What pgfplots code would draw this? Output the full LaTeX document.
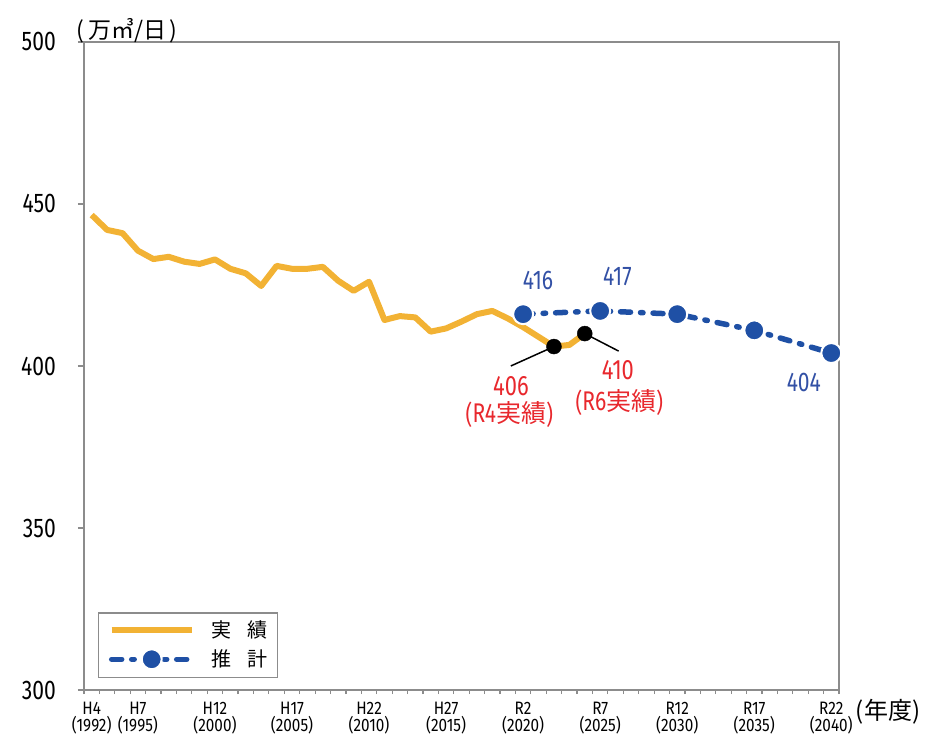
\documentclass[border=0pt]{standalone}
\usepackage{fontspec}
\usepackage{pgfplots}
\pgfplotsset{compat=1.18}
\setmainfont{Noto Sans CJK JP}
\newfontfamily\numfont{Fira Sans}[FakeStretch=0.78]
\newfontfamily\xnumfont{Fira Sans}[FakeStretch=0.85]
\definecolor{act}{RGB}{242,178,52}
\definecolor{est}{RGB}{31,80,165}
\definecolor{estlab}{RGB}{50,80,165}
\definecolor{redlab}{RGB}{232,40,45}
\definecolor{framec}{RGB}{140,140,140}
\pgfplotsset{
  actleg/.style={legend image code/.code={\draw[##1] (0pt,0pt) -- (80pt,0pt);}},
  estleg/.style={legend image code/.code={\draw[mark repeat=2,mark phase=2,##1] plot coordinates {(0pt,0pt) (40pt,0pt) (80pt,0pt)};}},
}
\begin{document}
\begin{tikzpicture}[x=1pt,y=1pt]
\useasboundingbox (0,0) rectangle (926,736);
\begin{axis}[
  at={(84pt,46pt)}, anchor=south west,
  scale only axis, width=755pt, height=648pt,
  xmin=1991.5, xmax=2040.5, ymin=300, ymax=500,
  axis line style={framec, line width=1.5pt},
  tick style={framec, line width=1.2pt},
  tick align=outside,
  xtick pos=bottom, ytick pos=left,
  xtick={1992,1995,2000,2005,2010,2015,2020,2025,2030,2035,2040},
  xticklabels={{H4\\(1992)},{H7\\(1995)},{H12\\(2000)},{H17\\(2005)},{H22\\(2010)},{H27\\(2015)},{R2\\(2020)},{R7\\(2025)},{R12\\(2030)},{R17\\(2035)},{R22\\(2040)}},
  major x tick style={draw=none},
  minor xtick={1991.5,1992.5,...,2040.5},
  minor tick length=4pt,
  major tick length=6pt,
  ytick={300,350,400,450,500},
  yticklabels={300,350,400,450,500},
  xticklabel style={font=\xnumfont\fontsize{18}{17}\selectfont, align=center, inner sep=0pt, yshift=-6pt},
  yticklabel style={font=\numfont\fontsize{27}{27}\selectfont, inner sep=0pt, xshift=-22pt},
  clip=false,
  legend cell align=left,
  legend style={at={(0.0185,0.0185)}, anchor=south west, draw=framec, line width=1.5pt, fill=white,
    inner xsep=10pt, inner ysep=8pt, row sep=10pt, font=\fontsize{20}{20}\selectfont,
    nodes={inner sep=0pt}, /tikz/every odd column/.append style={column sep=17pt}},
]
\addplot[act, line width=6pt, line join=round, actleg]
coordinates {
(1992,446.6) (1993,442.0) (1994,441.0) (1995,435.6) (1996,433.0) (1997,433.7)
(1998,432.2) (1999,431.5) (2000,432.9) (2001,430.0) (2002,428.6) (2003,424.7)
(2004,430.9) (2005,430.0) (2006,430.0) (2007,430.6) (2008,426.3) (2009,423.2)
(2010,426.0) (2011,414.2) (2012,415.4) (2013,415.0) (2014,410.6) (2015,411.6)
(2016,413.7) (2017,416.0) (2018,417.0) (2019,414.7) (2020,412.0) (2021,409.0)
(2022,406.0) (2023,406.5) (2024,410.0)
};
\addlegendentry{実\hspace{0.8em}績\hspace{9pt}}
\addplot[est, line width=5.5pt, line cap=round, dash pattern=on 10pt off 10pt on 2.5pt off 10pt,
  mark=*, mark size=10pt, mark options={solid, fill=est, draw=white, line width=2pt}, estleg]
coordinates {(2020,416) (2025,417) (2030,416) (2035,411) (2040,404)};
\addlegendentry{推\hspace{0.8em}計\hspace{9pt}}
\draw[black, line width=1.5pt] (axis cs:2022,406) -- (axis cs:2019.2,400);
\draw[black, line width=1.5pt] (axis cs:2024,410) -- (axis cs:2026.2,404.6);
\addplot[only marks, mark=*, mark size=7.5pt, mark options={fill=black, draw=none}, forget plot]
coordinates {(2022,406) (2024,410)};
\node[text=estlab, font=\numfont\fontsize{27}{27}\selectfont] at (axis cs:2020.96,426.5) {416};
\node[text=estlab, font=\numfont\fontsize{27}{27}\selectfont] at (axis cs:2026.12,427.5) {417};
\node[text=estlab, font=\numfont\fontsize{27}{27}\selectfont] at (axis cs:2038.22,394.8) {404};
\node[inner sep=0pt, text=redlab, font=\numfont\fontsize{28}{28}\selectfont] at (axis cs:2019.21,393.8) {406};
\node[inner sep=0pt, text=redlab, font=\fontsize{25}{25}\selectfont] at (axis cs:2019.1,385.0) {({\numfont\fontsize{27}{27}\selectfont R4}実績)};
\node[inner sep=0pt, text=redlab, font=\numfont\fontsize{28}{28}\selectfont] at (axis cs:2026.15,398.8) {410};
\node[inner sep=0pt, text=redlab, font=\fontsize{25}{25}\selectfont] at (axis cs:2026.25,388.6) {({\numfont\fontsize{27}{27}\selectfont R6}実績)};
\node[font=\fontsize{23}{23}\selectfont] at (axis description cs:0.057,1.017) {(\,万㎥/日\,)};
\node[font=\fontsize{24}{24}\selectfont] at (axis description cs:1.065,-0.034) {(年度)};
\end{axis}
\end{tikzpicture}
\end{document}
